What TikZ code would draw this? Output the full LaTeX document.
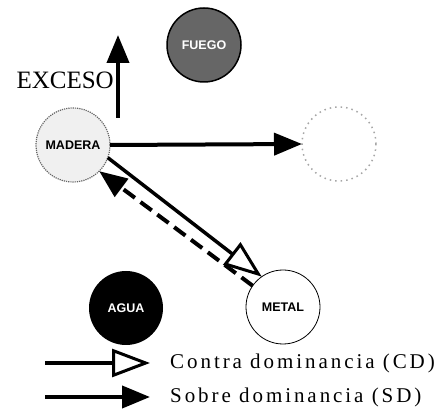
\documentclass[tikz,border=0pt]{standalone}
\usepackage{fontspec}
\setmainfont{Liberation Serif}
\setsansfont{Liberation Sans}
\newfontfamily\legendfont[LetterSpace=14]{Liberation Serif}
\usetikzlibrary{arrows.meta,positioning}

\begin{document}
\begin{tikzpicture}[x=1pt,y=-1pt]
                \tikzstyle{every node}+=[inner sep=0pt]
                \tikzstyle{elem}=[circle,minimum size=74pt,outer sep=0pt,font=\sffamily\bfseries\fontsize{12.5}{12.5}\selectfont]
                \tikzstyle{sd}=[line width=4pt,-{Triangle[length=28pt,width=22pt]}]
                \tikzstyle{cd}=[line width=3.5pt,-{Triangle[open,length=38pt,width=28pt,line width=3pt]}]
                \tikzstyle{legend}=[anchor=west,font=\legendfont\fontsize{21}{21}\selectfont]
                \useasboundingbox (0,0) rectangle (439,411);
                \node [elem,draw=black,line width=1.5pt,fill=black!60,text=white] (fuego) at (204,45) {FUEGO};
                \node [elem,draw=black!60,densely dotted,line width=1.2pt,fill=black!6] (madera) at (73,145) {MADERA};
                \node [elem,draw=black!35,loosely dotted,line width=1.5pt] (tierra) at (339,144) {};
                \node [elem,draw=black,line width=0.8pt,fill=white] (metal) at (283,307) {METAL};
                \node [elem,fill=black,text=white] (agua) at (126,308) {AGUA};
                \coordinate (exc0) at (118,118);
                \coordinate (exc1) at (118,35);
                \draw [sd] (exc0) -- (exc1);
                \node [anchor=east,font=\fontsize{25}{25}\selectfont] (exceso) at (114,80) {EXCESO};
                \draw [sd] (madera.east) -- (tierra.west);
                \draw [cd] (madera.-20) -- (metal.125);
                \draw [sd,dash pattern=on 14pt off 7pt] (metal.145) -- (madera.-45);
                \coordinate (cd0) at (45,363);
                \coordinate (cd1) at (150,363);
                \draw [cd] (cd0) -- (cd1);
                \node [legend] (cdtext) at (170,363) {Contra dominancia (CD)};
                \coordinate (sd0) at (45,397);
                \coordinate (sd1) at (150,397);
                \draw [sd] (sd0) -- (sd1);
                \node [legend] (sdtext) at (170,397) {Sobre dominancia (SD)};
\end{tikzpicture}
\end{document}
